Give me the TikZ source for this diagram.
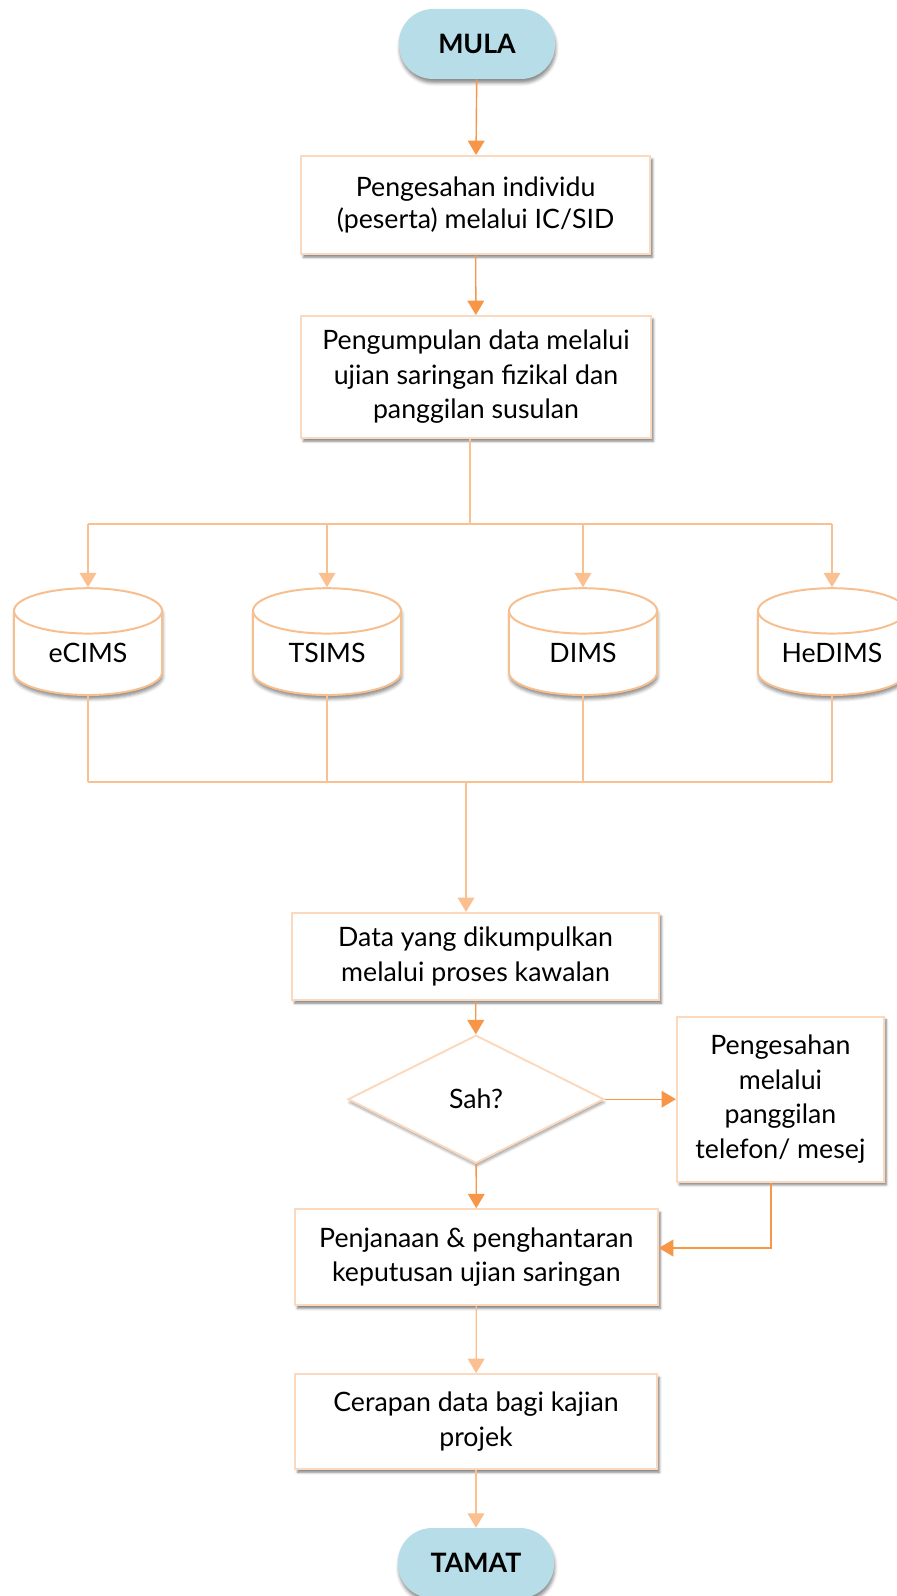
\documentclass[tikz,border=0pt]{standalone}
\usepackage{fontspec}
\setmainfont{Lato}
\usetikzlibrary{shapes}
\usetikzlibrary{positioning}
\usetikzlibrary{arrows.meta}
\usetikzlibrary{shadows.blur}
\definecolor{termblue}{HTML}{B7DEE8}
\definecolor{darkor}{HTML}{F79646}
\definecolor{lightor}{HTML}{FAC090}
\definecolor{boxline}{HTML}{FBD9BF}
\definecolor{dbline}{HTML}{F7BE8E}
\tikzset{
    myterm/.style = {rectangle, rounded corners=0.85cm, fill=termblue, minimum width=3.9cm, minimum height=1.75cm, font=\fontsize{19}{22}\selectfont\bfseries, text=black, blur shadow={shadow xshift=0.02cm, shadow yshift=-0.1cm, shadow blur radius=0.08cm, shadow opacity=45}},
    mybox/.style = {rectangle, draw=boxline, line width=1.4pt, fill=white, align=center, font=\fontsize{19}{24.5}\selectfont, text=black, blur shadow={shadow xshift=0.06cm, shadow yshift=-0.08cm, shadow blur radius=0.06cm, shadow opacity=50}},
    mydb/.style = {cylinder, shape border rotate=90, aspect=0.4, anchor=shape center, draw=dbline, line width=1.4pt, fill=white, minimum width=3.7cm, minimum height=2.67cm, text width=2.6cm, align=center, text height=0.47cm, text depth=0.22cm, font=\fontsize{19}{22}\selectfont, text=black, blur shadow={shadow xshift=0.02cm, shadow yshift=-0.1cm, shadow blur radius=0.08cm, shadow opacity=45}},
    mydec/.style = {diamond, draw=boxline, line width=1.4pt, fill=white, minimum width=6.4cm, minimum height=3.2cm, inner sep=0pt, font=\fontsize{19}{22}\selectfont, text=black, blur shadow={shadow xshift=0.02cm, shadow yshift=-0.08cm, shadow blur radius=0.06cm, shadow opacity=35}},
    edgeo/.style = {-{Triangle[width=0.42cm,length=0.36cm]}, line width=1pt, darkor}, % main flow
    edgep/.style = {-{Triangle[width=0.42cm,length=0.36cm]}, line width=0.9pt, lightor}, % light flow
    edgepl/.style = {-, line width=0.9pt, lightor} % plain bar
}

\begin{document}
\begin{tikzpicture}
\path[use as bounding box] (0,0) rectangle (22.4,-39.9);
%
\node[myterm] at (11.925,-1.1) (mula) {MULA};
\node[mybox, font=\fontsize{19}{22.5}\selectfont, minimum width=8.73cm, minimum height=2.45cm] at (11.89,-5.125) (b1) {Pengesahan individu\\(peserta) melalui IC/SID};
\node[mybox, minimum width=8.75cm, minimum height=3.05cm] at (11.9,-9.425) (b2) {Pengumpulan data melalui\\ujian saringan fizikal dan\\panggilan susulan};
%
\node[mydb] at (2.2,-16.04) (ecims) {eCIMS};
\node[mydb] at (8.175,-16.04) (tsims) {TSIMS};
\node[mydb] at (14.575,-16.04) (dims) {DIMS};
\node[mydb] at (20.8,-16.04) (hedims) {HeDIMS};
%
\node[mybox, minimum width=9.175cm, minimum height=2.175cm] at (11.89,-23.91) (b3) {Data yang dikumpulkan\\melalui proses kawalan};
\node[mydec] at (11.9,-27.48) (sah) {Sah?};
\node[mybox, minimum width=5.175cm, minimum height=4.125cm] at (19.51,-27.48) (b4) {Pengesahan\\melalui\\panggilan\\telefon/ mesej};
\node[mybox, minimum width=9.075cm, minimum height=2.4cm] at (11.91,-31.43) (b5) {Penjanaan \& penghantaran\\keputusan ujian saringan};
\node[mybox, minimum width=9.05cm, minimum height=2.375cm] at (11.9,-35.54) (b6) {Cerapan data bagi kajian\\projek};
\node[myterm] at (11.9,-39.075) (tamat) {TAMAT};
%
\coordinate (tb) at (11.75,-13.1);
\coordinate (bb) at (11.65,-19.55);
\coordinate (kb) at (19.275,-31.2);
%
\draw[edgeo] (mula) -- (b1);
\draw[edgeo] (b1) -- (b2);
\draw[edgepl] (tb |- b2.south) -- (tb);
\draw[edgepl] (ecims |- tb) -- (hedims |- tb);
\draw[edgep] (ecims |- tb) -- (ecims.top);
\draw[edgep] (tsims |- tb) -- (tsims.top);
\draw[edgep] (dims |- tb) -- (dims.top);
\draw[edgep] (hedims |- tb) -- (hedims.top);
%
\draw[edgepl] (ecims.bottom) -- (ecims |- bb);
\draw[edgepl] (tsims.bottom) -- (tsims |- bb);
\draw[edgepl] (dims.bottom) -- (dims |- bb);
\draw[edgepl] (hedims.bottom) -- (hedims |- bb);
\draw[edgepl] (ecims |- bb) -- (hedims |- bb);
\draw[edgep] (bb) -- (bb |- b3.north);
%
\draw[edgeo] (b3) -- (sah);
\draw[edgeo] (sah) -- (b4);
\draw[edgeo] (sah) -- (b5);
\draw[edgeo] (kb |- b4.south) -- (kb) -- (kb -| b5.east);
\draw[edgep] (b5) -- (b6);
\draw[edgep] (b6) -- (tamat);

\end{tikzpicture}
\end{document}
